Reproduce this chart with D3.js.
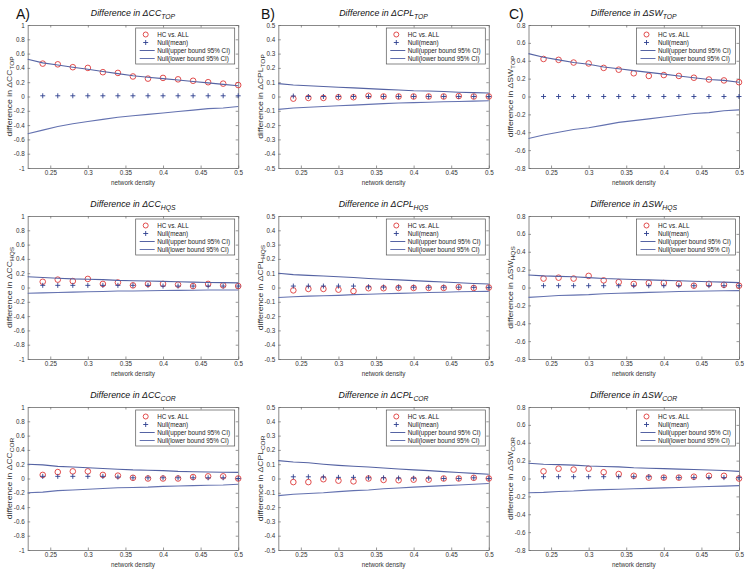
<!DOCTYPE html>
<html>
<head>
<meta charset="utf-8">
<script src="https://cdn.jsdelivr.net/npm/d3@7"></script>
<style>
  html, body { margin: 0; padding: 0; background: #fff; }
  svg { display: block; font-family: "Liberation Sans", Arial, sans-serif; }
</style>
</head>
<body>
<svg id="chart" width="748" height="572"></svg>
<script>
// ---------------- DATA ----------------
const densityMarkers = [0.24, 0.26, 0.28, 0.30, 0.32, 0.34, 0.36, 0.38, 0.40, 0.42, 0.44, 0.46, 0.48, 0.50];
const densityBounds  = [0.22, 0.24, 0.26, 0.28, 0.30, 0.32, 0.34, 0.36, 0.38, 0.40, 0.42, 0.44, 0.46, 0.48, 0.50];
const xTicks = [0.25, 0.3, 0.35, 0.4, 0.45, 0.5];
const yTicksCC  = [-1, -0.8, -0.6, -0.4, -0.2, 0, 0.2, 0.4, 0.6, 0.8, 1];
const yTicksCPL = [-0.5, -0.4, -0.3, -0.2, -0.1, 0, 0.1, 0.2, 0.3, 0.4, 0.5];
const yTicksSW  = [-0.8, -0.6, -0.4, -0.2, 0, 0.2, 0.4, 0.6, 0.8];
const legendLabels = ["HC vs. ALL", "Null(mean)", "Null(upper bound 95% CI)", "Null(lower bound 95% CI)"];
const panelLetters = ["A)", "B)", "C)"];
const metricNames = ["CC", "CPL", "SW"];
const subsetNames = ["TOP", "HQS", "COR"];

// CC TOP
const ccTopHC    = [0.46, 0.45, 0.41, 0.40, 0.34, 0.33, 0.28, 0.25, 0.26, 0.24, 0.22, 0.20, 0.18, 0.16];
const ccTopMean  = [0.01, 0.01, 0.01, 0.01, 0.01, 0.01, 0.01, 0.01, 0.01, 0.01, 0.01, 0.01, 0.01, 0.01];
const ccTopUpper = [0.52, 0.47, 0.44, 0.41, 0.38, 0.35, 0.32, 0.29, 0.27, 0.25, 0.23, 0.21, 0.19, 0.17, 0.15];
const ccTopLower = [-0.52, -0.47, -0.42, -0.38, -0.35, -0.32, -0.29, -0.27, -0.25, -0.23, -0.21, -0.19, -0.17, -0.16, -0.14];
// CPL TOP
const cplTopHC    = [-0.015, -0.01, -0.01, -0.005, -0.005, 0.005, 0, 0, 0, 0, 0, 0.003, 0, 0];
const cplTopMean  = [0.003, 0, 0, 0, 0, 0, 0, 0, 0, 0, 0, 0, 0, 0];
const cplTopUpper = [0.09, 0.08, 0.075, 0.07, 0.065, 0.06, 0.055, 0.05, 0.045, 0.04, 0.038, 0.035, 0.03, 0.027, 0.025];
const cplTopLower = [-0.09, -0.08, -0.075, -0.07, -0.065, -0.06, -0.055, -0.05, -0.045, -0.043, -0.04, -0.037, -0.035, -0.032, -0.03];
// SW TOP
const swTopHC    = [0.42, 0.41, 0.38, 0.37, 0.32, 0.30, 0.26, 0.23, 0.24, 0.23, 0.21, 0.19, 0.18, 0.16];
const swTopMean  = [0, 0, 0, 0, 0, 0, 0, 0, 0, 0, 0, 0, 0, 0];
const swTopUpper = [0.48, 0.44, 0.41, 0.38, 0.36, 0.33, 0.31, 0.29, 0.27, 0.25, 0.23, 0.21, 0.19, 0.18, 0.16];
const swTopLower = [-0.47, -0.43, -0.40, -0.37, -0.35, -0.32, -0.29, -0.27, -0.25, -0.23, -0.21, -0.19, -0.18, -0.16, -0.15];
// CC HQS
const ccHqsHC    = [0.08, 0.11, 0.09, 0.12, 0.05, 0.07, 0.03, 0.05, 0.05, 0.04, 0.02, 0.05, 0.03, 0.02];
const ccHqsMean  = [0.03, 0.03, 0.03, 0.03, 0.03, 0.03, 0.03, 0.03, 0.02, 0.02, 0.02, 0.02, 0.02, 0.02];
const ccHqsUpper = [0.15, 0.14, 0.13, 0.12, 0.115, 0.11, 0.10, 0.095, 0.09, 0.085, 0.08, 0.075, 0.07, 0.068, 0.065];
const ccHqsLower = [-0.08, -0.075, -0.07, -0.065, -0.06, -0.055, -0.05, -0.048, -0.045, -0.043, -0.04, -0.038, -0.036, -0.035, -0.035];
// CPL HQS
const cplHqsHC    = [-0.02, -0.01, -0.01, -0.015, -0.025, -0.005, -0.005, -0.003, -0.003, -0.003, -0.003, 0.003, -0.003, 0];
const cplHqsMean  = [0.01, 0.01, 0.01, 0.01, 0.01, 0.005, 0.003, 0.003, 0.002, 0.002, 0.002, 0.002, 0.001, 0.001];
const cplHqsUpper = [0.10, 0.09, 0.085, 0.08, 0.075, 0.07, 0.063, 0.058, 0.053, 0.048, 0.043, 0.038, 0.033, 0.028, 0.025];
const cplHqsLower = [-0.07, -0.065, -0.06, -0.058, -0.055, -0.05, -0.047, -0.044, -0.041, -0.038, -0.035, -0.033, -0.03, -0.028, -0.027];
// SW HQS
const swHqsHC    = [0.10, 0.11, 0.10, 0.13, 0.08, 0.06, 0.04, 0.05, 0.05, 0.04, 0.02, 0.04, 0.03, 0.02];
const swHqsMean  = [0.02, 0.02, 0.02, 0.02, 0.02, 0.02, 0.02, 0.02, 0.02, 0.02, 0.02, 0.02, 0.02, 0.02];
const swHqsUpper = [0.14, 0.13, 0.125, 0.12, 0.11, 0.10, 0.095, 0.09, 0.085, 0.08, 0.075, 0.07, 0.065, 0.06, 0.055];
const swHqsLower = [-0.11, -0.10, -0.09, -0.085, -0.08, -0.07, -0.065, -0.06, -0.055, -0.05, -0.045, -0.042, -0.04, -0.037, -0.035];
// CC COR
const ccCorHC    = [0.05, 0.09, 0.10, 0.10, 0.05, 0.04, 0.01, 0, 0, 0, 0.02, 0.03, 0.03, 0];
const ccCorMean  = [0.03, 0.03, 0.03, 0.03, 0.03, 0.02, 0.01, 0.01, 0.01, 0.01, 0.01, 0.01, 0.01, 0];
const ccCorUpper = [0.20, 0.19, 0.17, 0.16, 0.15, 0.14, 0.13, 0.12, 0.115, 0.11, 0.10, 0.095, 0.09, 0.087, 0.085];
const ccCorLower = [-0.20, -0.19, -0.17, -0.16, -0.15, -0.14, -0.13, -0.125, -0.12, -0.11, -0.105, -0.10, -0.095, -0.09, -0.08];
// CPL COR
const cplCorHC    = [-0.025, -0.025, -0.005, -0.015, -0.02, 0, -0.01, -0.012, -0.008, -0.008, 0, 0, 0.005, 0];
const cplCorMean  = [0.012, 0.012, 0.01, 0.008, 0.008, 0.005, 0.005, 0.003, 0.002, 0.002, 0, 0, 0.005, 0];
const cplCorUpper = [0.125, 0.115, 0.11, 0.10, 0.092, 0.086, 0.08, 0.073, 0.066, 0.06, 0.055, 0.048, 0.042, 0.036, 0.03];
const cplCorLower = [-0.12, -0.11, -0.105, -0.10, -0.092, -0.085, -0.08, -0.072, -0.066, -0.06, -0.055, -0.05, -0.045, -0.04, -0.035];
// SW COR
const swCorHC    = [0.08, 0.11, 0.10, 0.11, 0.07, 0.05, 0.03, 0.01, 0.01, 0.01, 0.02, 0.03, 0.03, 0];
const swCorMean  = [0.02, 0.02, 0.02, 0.02, 0.02, 0.02, 0.02, 0.02, 0.01, 0.01, 0.01, 0.01, 0.01, 0.01];
const swCorUpper = [0.17, 0.16, 0.155, 0.15, 0.14, 0.135, 0.13, 0.12, 0.115, 0.11, 0.105, 0.10, 0.095, 0.09, 0.08];
const swCorLower = [-0.16, -0.155, -0.145, -0.14, -0.13, -0.125, -0.12, -0.115, -0.11, -0.105, -0.10, -0.095, -0.09, -0.085, -0.08];

// ---------------- PANELS ----------------
const panels = [
  { r: 0, c: 0, ticks: yTicksCC,  hc: ccTopHC,  mean: ccTopMean,  up: ccTopUpper,  lo: ccTopLower },
  { r: 0, c: 1, ticks: yTicksCPL, hc: cplTopHC, mean: cplTopMean, up: cplTopUpper, lo: cplTopLower },
  { r: 0, c: 2, ticks: yTicksSW,  hc: swTopHC,  mean: swTopMean,  up: swTopUpper,  lo: swTopLower },
  { r: 1, c: 0, ticks: yTicksCC,  hc: ccHqsHC,  mean: ccHqsMean,  up: ccHqsUpper,  lo: ccHqsLower },
  { r: 1, c: 1, ticks: yTicksCPL, hc: cplHqsHC, mean: cplHqsMean, up: cplHqsUpper, lo: cplHqsLower },
  { r: 1, c: 2, ticks: yTicksSW,  hc: swHqsHC,  mean: swHqsMean,  up: swHqsUpper,  lo: swHqsLower },
  { r: 2, c: 0, ticks: yTicksCC,  hc: ccCorHC,  mean: ccCorMean,  up: ccCorUpper,  lo: ccCorLower },
  { r: 2, c: 1, ticks: yTicksCPL, hc: cplCorHC, mean: cplCorMean, up: cplCorUpper, lo: cplCorLower },
  { r: 2, c: 2, ticks: yTicksSW,  hc: swCorHC,  mean: swCorMean,  up: swCorUpper,  lo: swCorLower }
];

const colLeft = [27.7, 278.3, 528.5];
const rowTop = [25, 216, 407];
const W = 210.5, H = 143;
const axisColor = "#6a6a6a";
const textColor = "#333";
const redC = "#de3a3a";
const plusC = "#2e3f8e";
const upC = "#5563a3";
const loC = "#6472b0";
const small = 6.3;

const svg = d3.select("#chart");
svg.append("rect").attr("width", 748).attr("height", 572).attr("fill", "#fff");

const fmt = d => String(Math.round(d * 100) / 100);

panels.forEach(p => {
  const x0 = colLeft[p.c], y0 = rowTop[p.r];
  const g = svg.append("g").attr("transform", `translate(${x0},${y0})`);
  const x = d3.scaleLinear().domain([0.22, 0.5]).range([0, W]);
  const yMax = d3.max(p.ticks), yMin = d3.min(p.ticks);
  const y = d3.scaleLinear().domain([yMin, yMax]).range([H, 0]);

  // axes (ticks inward)
  const axB = g.append("g").attr("transform", `translate(0,${H})`)
    .call(d3.axisBottom(x).tickValues(xTicks).tickFormat(fmt).tickSizeInner(-2.5).tickSizeOuter(0).tickPadding(3));
  const axT = g.append("g")
    .call(d3.axisTop(x).tickValues(xTicks).tickFormat("").tickSizeInner(-2.5).tickSizeOuter(0));
  const axL = g.append("g")
    .call(d3.axisLeft(y).tickValues(p.ticks).tickFormat(fmt).tickSizeInner(-2.5).tickSizeOuter(0).tickPadding(3));
  const axR = g.append("g").attr("transform", `translate(${W},0)`)
    .call(d3.axisRight(y).tickValues(p.ticks).tickFormat("").tickSizeInner(-2.5).tickSizeOuter(0));
  [axB, axT, axL, axR].forEach(a => {
    a.select(".domain").attr("stroke", axisColor).attr("stroke-width", 0.8);
    a.selectAll(".tick line").attr("stroke", axisColor).attr("stroke-width", 0.7);
    a.selectAll("text").attr("font-size", small).attr("fill", textColor)
      .attr("font-family", "Liberation Sans, Arial, sans-serif");
  });

  // HC circles
  g.append("g").selectAll("circle").data(p.hc).join("circle")
    .attr("cx", (d, i) => x(densityMarkers[i])).attr("cy", d => y(d))
    .attr("r", 2.8).attr("fill", "none").attr("stroke", redC).attr("stroke-width", 0.9);
  // Null mean plus
  const pl = 2.5;
  g.append("g").selectAll("path").data(p.mean).join("path")
    .attr("d", (d, i) => {
      const cx = x(densityMarkers[i]), cy = y(d);
      return `M${cx - pl},${cy}H${cx + pl}M${cx},${cy - pl}V${cy + pl}`;
    })
    .attr("stroke", plusC).attr("stroke-width", 0.9).attr("fill", "none");
  // bounds
  const line = d3.line().x((d, i) => x(densityBounds[i])).y(d => y(d));
  g.append("path").datum(p.up).attr("d", line).attr("fill", "none").attr("stroke", upC).attr("stroke-width", 1.1);
  g.append("path").datum(p.lo).attr("d", line).attr("fill", "none").attr("stroke", loC).attr("stroke-width", 1.1);

  // Title
  const metric = metricNames[p.c], subset = subsetNames[p.r];
  const t = g.append("text").attr("x", W / 2).attr("y", -9.5).attr("text-anchor", "middle")
    .attr("font-size", 8.8).attr("font-style", "italic").attr("fill", "#111");
  t.append("tspan").text("Difference in \u0394" + metric);
  t.append("tspan").attr("font-size", 6.8).attr("dy", 3).text(subset);

  // x label
  g.append("text").attr("x", W / 2).attr("y", H + 17).attr("text-anchor", "middle")
    .attr("font-size", small).attr("fill", textColor).text("network density");

  // y label (stretched along its length as in the reference)
  const yl = g.append("text").attr("transform", `translate(-15.8,${H / 2}) rotate(-90) scale(1.3,1)`)
    .attr("text-anchor", "middle").attr("font-size", 6.6).attr("fill", textColor);
  yl.append("tspan").text("difference in \u0394" + metric);
  yl.append("tspan").attr("font-size", 5).attr("dy", 2).text(subset);

  // legend
  const lw = 99, lh = 36;
  const lg = g.append("g").attr("transform", `translate(${W - 3.5 - lw},3)`);
  lg.append("rect").attr("width", lw).attr("height", lh).attr("fill", "#fff")
    .attr("stroke", "#555").attr("stroke-width", 0.7);
  legendLabels.forEach((lab, i) => {
    const cy = 6.5 + i * 8;
    if (i === 0) {
      lg.append("circle").attr("cx", 10).attr("cy", cy).attr("r", 2.5)
        .attr("fill", "none").attr("stroke", redC).attr("stroke-width", 0.9);
    } else if (i === 1) {
      lg.append("path").attr("d", `M${10 - pl},${cy}H${10 + pl}M10,${cy - pl}V${cy + pl}`)
        .attr("stroke", plusC).attr("stroke-width", 0.9);
    } else {
      lg.append("line").attr("x1", 4).attr("x2", 19).attr("y1", cy).attr("y2", cy)
        .attr("stroke", i === 2 ? upC : loC).attr("stroke-width", 1);
    }
    lg.append("text").attr("x", 21.5).attr("y", cy + 2.2).attr("font-size", small)
      .attr("fill", "#222").text(lab);
  });
});

// panel letters
const letterX = [16, 261, 509];
panelLetters.forEach((l, i) => {
  svg.append("text").attr("x", letterX[i]).attr("y", 19).attr("font-size", 14)
    .attr("fill", "#111").text(l);
});
</script>
</body>
</html>
